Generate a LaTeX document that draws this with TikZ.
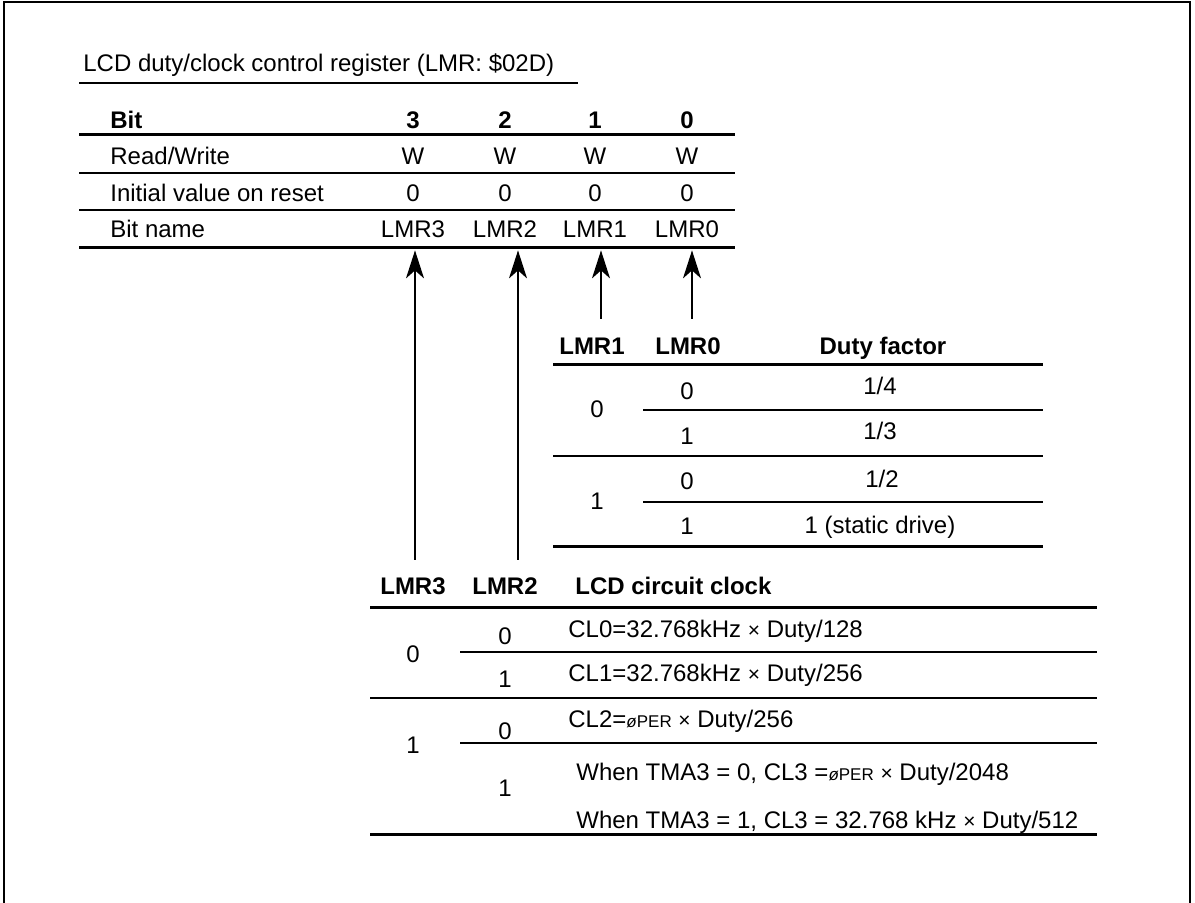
\documentclass[tikz,border=0pt]{standalone}
\usepackage{fontspec}
\setmainfont{Liberation Sans}
\usetikzlibrary{arrows.meta}
\newcommand{\phiPer}{{\fontsize{8.5}{9}\selectfont\itshape ø\upshape PER}}
\newcommand{\timesSign}{{\fontsize{10.5}{10}\selectfont ×}}

\begin{document}
\begin{tikzpicture}[x=0.5pt, y=-0.5pt,
  cell/.style={inner sep=0pt, anchor=base, font=\fontsize{12}{14}\selectfont},
  headcell/.style={cell, font=\fontsize{12}{14}\selectfont\bfseries},
  rowlabel/.style={cell, anchor=base west},
  bitname/.style={cell, text depth=6pt},
  thickrule/.style={line width=1.5pt},
  midrule/.style={line width=1pt},
  thinrule/.style={line width=0.75pt},
  regarrow/.style={-{Stealth[length=14pt, width=9pt, inset=4pt]}, line width=0.7pt},
]
\useasboundingbox (0,0) rectangle (1195,903);
\draw[line width=1pt] (4,903) -- (4,2) -- (1190,2) -- (1190,903);

\node[rowlabel] (title) at (83,72) {LCD duty/clock control register (LMR: \$02D)};
\draw[thinrule] (79,83) -- (578,83);

\node[headcell, anchor=base west] (bitlbl) at (110,129) {Bit};
\node[rowlabel] (rwlbl) at (110,165) {Read/Write};
\node[rowlabel] (initlbl) at (110,202) {Initial value on reset};
\node[rowlabel] (namelbl) at (110,238) {Bit name};
\foreach \n/\x in {3/413,2/505,1/595,0/687} {
  \node[headcell] (bit\n) at (\x,129) {\n};
  \node[cell] (rw\n) at (\x,165) {W};
  \node[cell] (init\n) at (\x,202) {0};
  \node[bitname] (name\n) at (\x,238) {LMR\n};
}
\draw[thickrule] (79,135) -- (735,135);
\draw[thinrule] (79,173) -- (735,173);
\draw[thinrule] (79,210) -- (735,210);
\draw[thickrule] (79,248) -- (735,248);

\coordinate (tail3) at (415,560);
\coordinate (tail2) at (518,560);
\coordinate (tail1) at (601,319);
\coordinate (tail0) at (692,319);
\foreach \n in {3,2,1,0} {
  \draw[regarrow] (tail\n) -- (tail\n |- name\n.south);
}

\node[headcell] (dutyLMR1) at (592,355) {LMR1};
\node[headcell] (dutyLMR0) at (688,355) {LMR0};
\node[headcell] (dutyhead) at (883,355) {Duty factor};
\draw[thickrule] (553,365) -- (1043,365);
\node[cell] (duty0) at (597,418) {0};
\node[cell] (duty1) at (597,510) {1};
\node[cell] (d00) at (687,400) {0};
\node[cell] (f00) at (880,395) {1/4};
\draw[thinrule] (643,410) -- (1043,410);
\node[cell] (d01) at (687,445) {1};
\node[cell] (f01) at (880,440) {1/3};
\draw[midrule] (553,456) -- (1043,456);
\node[cell] (d10) at (687,490) {0};
\node[cell] (f10) at (882,488) {1/2};
\draw[thinrule] (643,502) -- (1043,502);
\node[cell] (d11) at (687,535) {1};
\node[cell] (f11) at (880,534) {1 (static drive)};
\draw[thickrule] (553,547) -- (1043,547);

\node[headcell] (clkLMR3) at (413,595) {LMR3};
\node[headcell] (clkLMR2) at (505,595) {LMR2};
\node[headcell, anchor=base west] (clkhead) at (575,595) {LCD circuit clock};
\draw[thickrule] (370,608) -- (1097,608);
\node[cell] (c3a) at (413,662) {0};
\node[cell] (c3b) at (413,753) {1};
\node[cell] (c00) at (505,645) {0};
\node[rowlabel] (cl0) at (568,638) {CL0=32.768kHz \timesSign{} Duty/128};
\draw[thinrule] (460,652) -- (1097,652);
\node[cell] (c01) at (505,688) {1};
\node[rowlabel] (cl1) at (568,682) {CL1=32.768kHz \timesSign{} Duty/256};
\draw[midrule] (370,698) -- (1097,698);
\node[cell] (c10) at (505,739) {0};
\node[rowlabel] (cl2) at (568,727) {CL2=\phiPer{} \timesSign{} Duty/256};
\draw[thinrule] (460,743) -- (1097,743);
\node[cell] (c11) at (505,796) {1};
\node[rowlabel] (cl3a) at (576,780) {When TMA3 = 0, CL3 =\phiPer{} \timesSign{} Duty/2048};
\node[rowlabel] (cl3b) at (576,828) {When TMA3 = 1, CL3 = 32.768 kHz \timesSign{} Duty/512};
\draw[thickrule] (370,834) -- (1097,834);
\end{tikzpicture}
\end{document}
